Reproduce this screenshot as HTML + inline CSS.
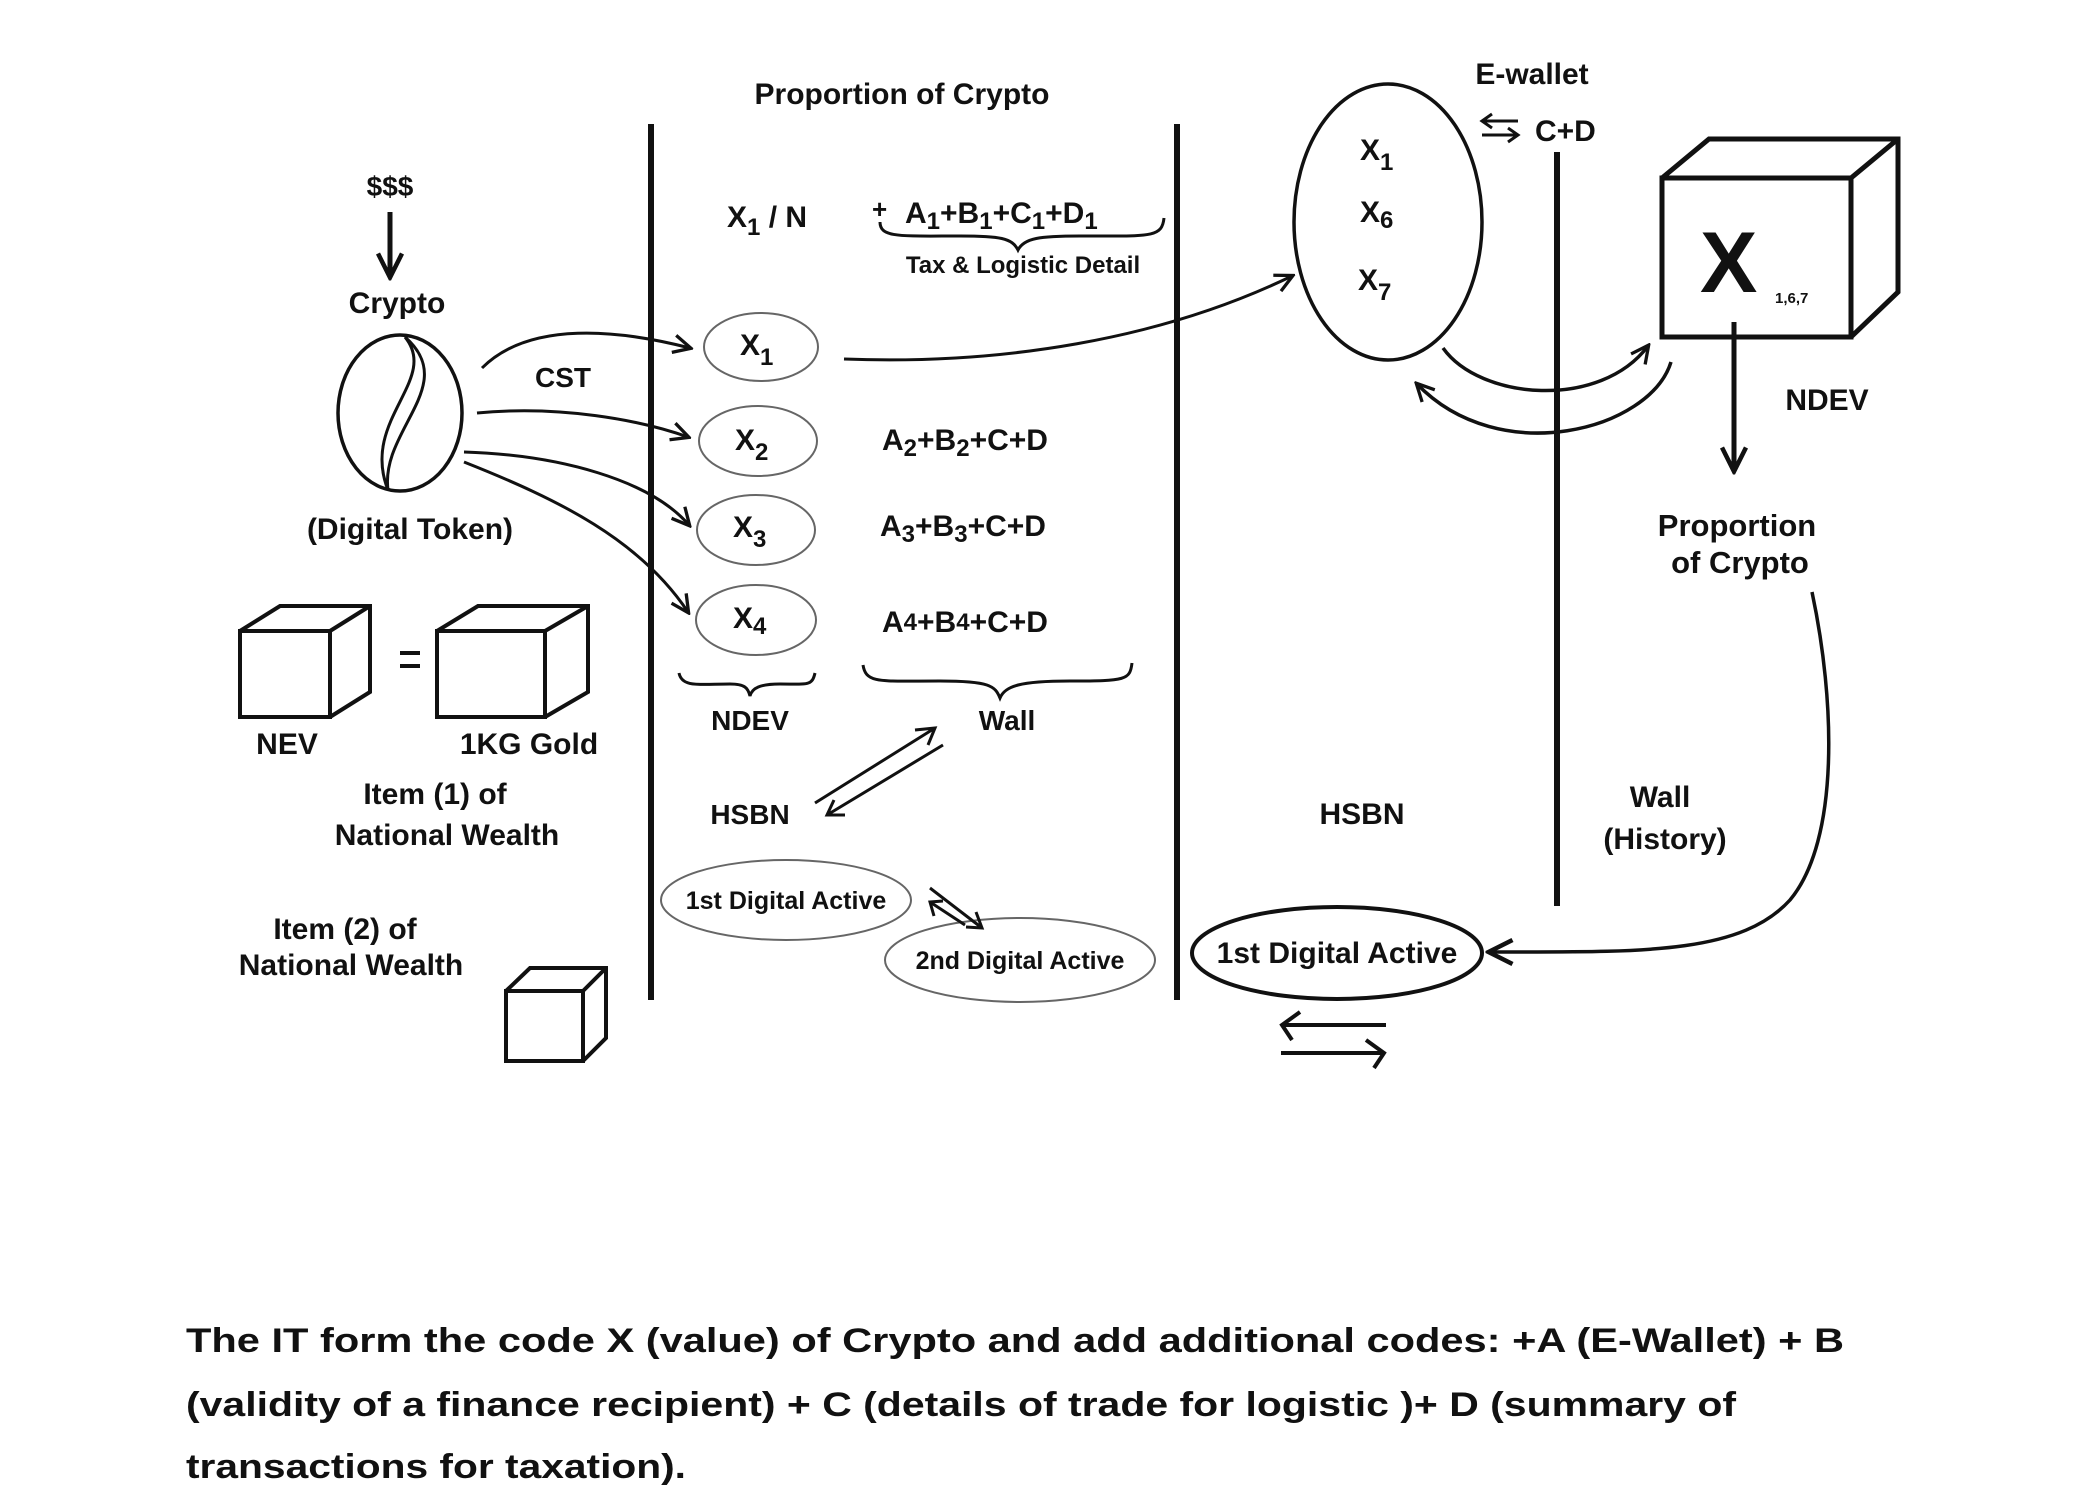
<!DOCTYPE html>
<html><head><meta charset="utf-8"><style>
html,body{margin:0;padding:0;background:#fff;}
svg{display:block;}
text{font-family:"Liberation Sans",Arial,sans-serif;font-weight:bold;fill:#111;}
</style></head><body>
<svg width="2100" height="1500" viewBox="0 0 2100 1500" xmlns="http://www.w3.org/2000/svg">
<defs>
<marker id="ah" viewBox="0 0 20 20" refX="17" refY="10" markerWidth="22" markerHeight="22" markerUnits="userSpaceOnUse" orient="auto">
<path d="M2,2 L18,10 L2,18" fill="none" stroke="#111" stroke-width="3"/>
</marker>
<marker id="ahb" viewBox="0 0 20 20" refX="17" refY="10" markerWidth="30" markerHeight="30" markerUnits="userSpaceOnUse" orient="auto">
<path d="M2,2 L18,10 L2,18" fill="none" stroke="#111" stroke-width="3"/>
</marker>
</defs>
<g stroke="#111" fill="none">
<line x1="651" y1="124" x2="651" y2="1000" stroke-width="6"/>
<line x1="1177" y1="124" x2="1177" y2="1000" stroke-width="6"/>
<line x1="1557" y1="152" x2="1557" y2="906" stroke-width="6"/>
<line x1="390" y1="212" x2="390" y2="276" stroke-width="5" marker-end="url(#ahb)"/>
<ellipse cx="400" cy="413" rx="62" ry="78" stroke-width="3.5"/>
<path d="M405,337 C440,380 360,420 388,490" stroke-width="3"/>
<path d="M405,337 C460,385 380,430 388,490" stroke-width="3"/>
<path d="M482,368 C530,320 620,330 690,348" stroke-width="3" marker-end="url(#ah)"/>
<path d="M477,413 C560,405 640,420 688,437" stroke-width="3" marker-end="url(#ah)"/>
<path d="M464,452 C560,455 650,480 689,525" stroke-width="3" marker-end="url(#ah)"/>
<path d="M464,462 C560,500 640,540 688,612" stroke-width="3" marker-end="url(#ah)"/>
<g stroke-width="4">
<rect x="240" y="631" width="90" height="86"/><path d="M240,631 L280,606 L370,606 L370,692 L330,717 M330,631 L370,606"/>
<rect x="437" y="631" width="108" height="86"/><path d="M437,631 L478,606 L588,606 L588,692 L545,717 M545,631 L588,606"/>
<rect x="506" y="991" width="77" height="70"/><path d="M506,991 L530,968 L606,968 L606,1038 L583,1061 M583,991 L606,968"/>
</g>
<line x1="400" y1="653" x2="420" y2="653" stroke-width="4"/><line x1="400" y1="666" x2="420" y2="666" stroke-width="4"/>
<g stroke="#666" stroke-width="2">
<ellipse cx="761" cy="347" rx="57" ry="34"/>
<ellipse cx="758" cy="441" rx="59" ry="35"/>
<ellipse cx="756" cy="530" rx="59" ry="35"/>
<ellipse cx="756" cy="620" rx="60" ry="35"/>
<ellipse cx="786" cy="900" rx="125" ry="40"/>
<ellipse cx="1020" cy="960" rx="135" ry="42"/>
</g>
<path d="M880,222 C880,238 900,236 960,236 C1000,236 1012,238 1018,250 C1024,238 1040,236 1080,236 C1150,236 1162,238 1164,218" stroke-width="3"/>
<path d="M679,673 C682,688 700,684 730,684 C745,684 748,688 750,696 C752,688 760,684 780,684 C808,684 812,686 815,673" stroke-width="3"/>
<path d="M863,665 C866,684 880,681 940,681 C990,681 995,686 1000,698 C1005,686 1020,681 1070,681 C1126,681 1130,680 1132,663" stroke-width="3"/>
<path d="M815,803 L935,728 M915,730 L935,728 L928,745" stroke-width="3"/>
<path d="M943,745 L827,815 M845,815 L827,815 L834,800" stroke-width="3"/>
<path d="M930,888 L982,928 M976,912 L982,928 L966,927" stroke-width="3"/>
<path d="M965,925 L930,902 M934,916 L930,902 L943,901" stroke-width="3"/>
<path d="M844,359 C1000,365 1160,340 1292,276" stroke-width="3" marker-end="url(#ah)"/>
<ellipse cx="1388" cy="222" rx="94" ry="138" stroke-width="3.5"/>
<path d="M1518,121 L1482,121 M1492,114 L1482,121 L1492,128" stroke-width="3"/>
<path d="M1482,135 L1518,135 M1508,128 L1518,135 L1508,142" stroke-width="3"/>
<g stroke-width="5" stroke-linejoin="miter">
<rect x="1662" y="178" width="189" height="159"/>
<path d="M1662,178 L1709,139 L1898,139 L1898,292 L1851,337 M1851,178 L1898,139"/>
</g>
<line x1="1734" y1="322" x2="1734" y2="470" stroke-width="5" marker-end="url(#ahb)"/>
<path d="M1443,348 C1480,400 1600,410 1648,346" stroke-width="3.5" marker-end="url(#ah)"/>
<path d="M1671,362 C1650,430 1500,470 1417,384" stroke-width="3.5" marker-end="url(#ah)"/>
<path d="M1812,592 C1835,700 1840,840 1790,900 C1740,955 1640,952 1490,952" stroke-width="3.5" marker-end="url(#ahb)"/>
<ellipse cx="1337" cy="953" rx="145" ry="46" stroke-width="4"/>
<path d="M1386,1025 L1282,1025 M1300,1012 L1282,1025 L1292,1040" stroke-width="4"/>
<path d="M1281,1053 L1384,1053 M1366,1040 L1384,1053 L1374,1068" stroke-width="4"/>
</g>
<g text-anchor="middle">
<text x="902" y="104" font-size="30">Proportion of Crypto</text>
<text x="390" y="196" font-size="28">$$$</text>
<text x="397" y="313" font-size="30">Crypto</text>
<text x="410" y="539" font-size="30">(Digital Token)</text>
<text x="563" y="387" font-size="28">CST</text>
<text x="287" y="754" font-size="30">NEV</text>
<text x="529" y="754" font-size="30">1KG Gold</text>
<text x="435" y="804" font-size="30">Item (1) of</text>
<text x="447" y="845" font-size="30">National Wealth</text>
<text x="345" y="939" font-size="30">Item (2) of</text>
<text x="351" y="975" font-size="30">National Wealth</text>
<text x="1023" y="273" font-size="24">Tax &amp; Logistic Detail</text>
<text x="750" y="730" font-size="28">NDEV</text>
<text x="1007" y="730" font-size="28">Wall</text>
<text x="750" y="824" font-size="28">HSBN</text>
<text x="786" y="909" font-size="25">1st Digital Active</text>
<text x="1020" y="969" font-size="25">2nd Digital Active</text>
<text x="1362" y="824" font-size="30">HSBN</text>
<text x="1337" y="963" font-size="30">1st Digital Active</text>
<text x="1532" y="84" font-size="30">E-wallet</text>
<text x="1827" y="410" font-size="30">NDEV</text>
<text x="1737" y="536" font-size="31">Proportion</text>
<text x="1740" y="573" font-size="31">of Crypto</text>
<text x="1660" y="807" font-size="30">Wall</text>
<text x="1665" y="849" font-size="30">(History)</text>
</g>
<g font-size="30">
<text x="727" y="227">X<tspan font-size="24" dy="8">1</tspan><tspan dy="-8"> / N</tspan></text>
<text x="872" y="218" font-size="26">+</text>
<text x="905" y="223">A<tspan font-size="24" dy="6">1</tspan><tspan dy="-6">+B</tspan><tspan font-size="24" dy="6">1</tspan><tspan dy="-6">+C</tspan><tspan font-size="24" dy="6">1</tspan><tspan dy="-6">+D</tspan><tspan font-size="24" dy="6">1</tspan></text>
<text x="740" y="355">X<tspan font-size="24" dy="10">1</tspan></text>
<text x="735" y="450">X<tspan font-size="24" dy="10">2</tspan></text>
<text x="733" y="537">X<tspan font-size="24" dy="10">3</tspan></text>
<text x="733" y="628">X<tspan font-size="24" dy="6">4</tspan></text>
<text x="882" y="450">A<tspan font-size="24" dy="6">2</tspan><tspan dy="-6">+B</tspan><tspan font-size="24" dy="6">2</tspan><tspan dy="-6">+C+D</tspan></text>
<text x="880" y="536">A<tspan font-size="24" dy="6">3</tspan><tspan dy="-6">+B</tspan><tspan font-size="24" dy="6">3</tspan><tspan dy="-6">+C+D</tspan></text>
<text x="882" y="632">A<tspan font-size="24" dy="-2">4</tspan><tspan dy="2">+B</tspan><tspan font-size="24" dy="-2">4</tspan><tspan dy="2">+C+D</tspan></text>
<text x="1360" y="160">X<tspan font-size="24" dy="10">1</tspan></text>
<text x="1360" y="222">X<tspan font-size="24" dy="6">6</tspan></text>
<text x="1358" y="290">X<tspan font-size="24" dy="10">7</tspan></text>
<text x="1535" y="141">C+D</text>
<text x="1700" y="292" font-size="86">X</text>
<text x="1775" y="303" font-size="15">1,6,7</text>
</g>
<g font-size="34">
<text x="186" y="1352" textLength="1658" lengthAdjust="spacingAndGlyphs">The IT form the code X (value) of Crypto  and add additional codes:  +A (E-Wallet) + B</text>
<text x="186" y="1416" textLength="1550" lengthAdjust="spacingAndGlyphs">(validity of a finance recipient) + C (details of trade for logistic )+ D (summary of</text>
<text x="186" y="1478" textLength="500" lengthAdjust="spacingAndGlyphs">transactions for taxation).</text>
</g>
</svg>
</body></html>
